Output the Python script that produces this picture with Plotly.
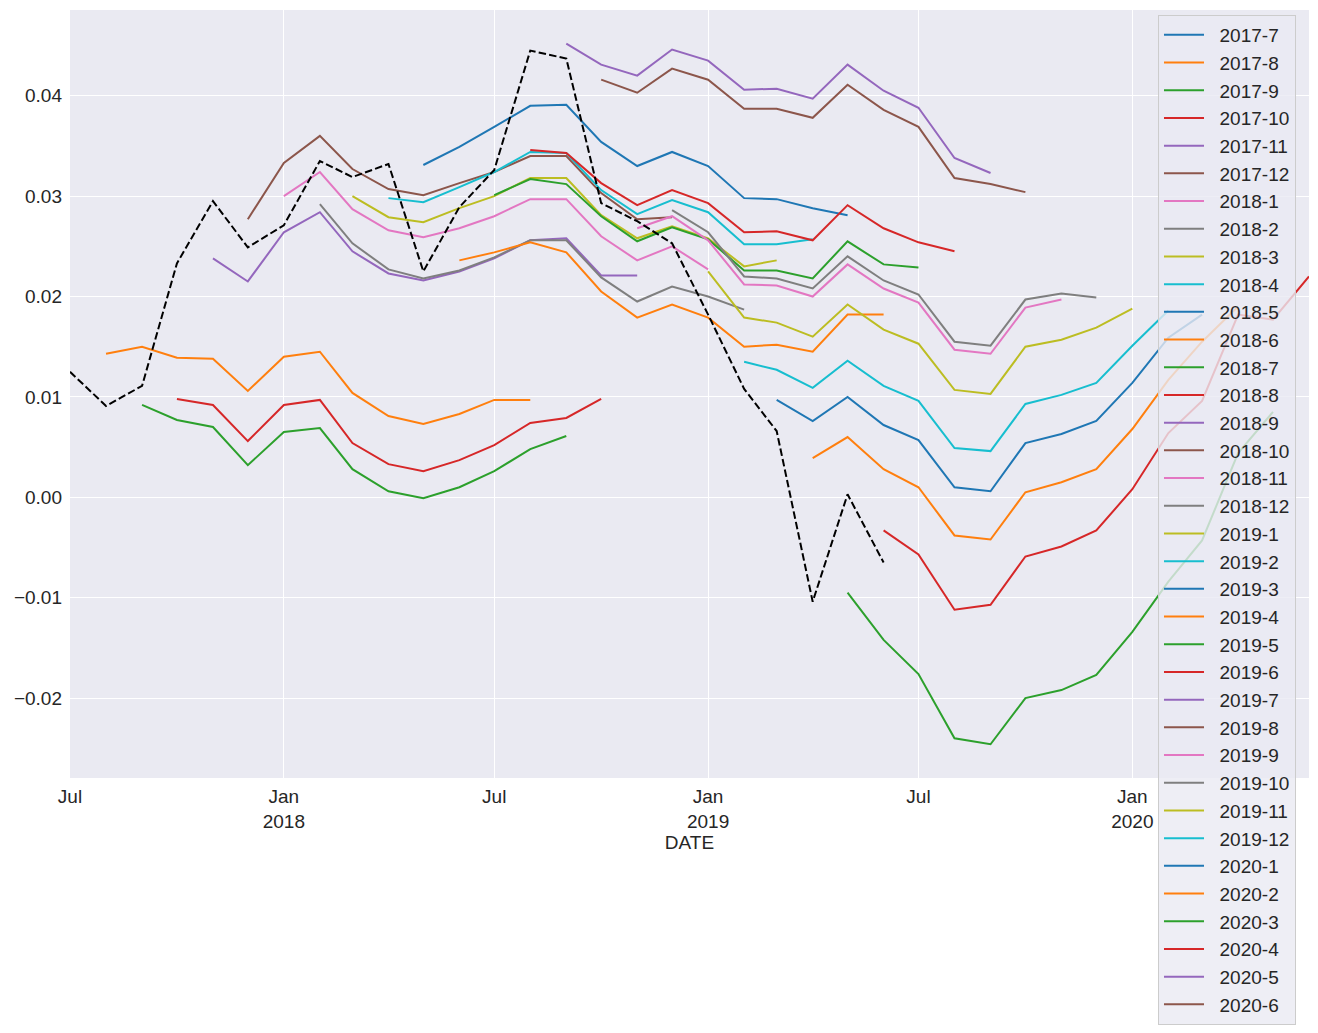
import pandas as pd
import plotly.graph_objects as go

# ---- data -------------------------------------------------------------
actual_start = "2017-07-01"
actual = [0.0125, 0.0091, 0.0111, 0.0233, 0.0295, 0.0249, 0.0271, 0.0335, 0.0319,
          0.0332, 0.0225, 0.0289, 0.0326, 0.0445, 0.0437, 0.0293, 0.0275, 0.0253,
          0.0182, 0.0108, 0.0066, -0.0104, 0.0003, -0.0065]

s2017_7 = []
s2017_8 = [0.0143, 0.0150, 0.0139, 0.0138, 0.0106, 0.0140, 0.0145, 0.0104, 0.0081, 0.0073, 0.0083, 0.0097, 0.0097]
s2017_9 = [0.0092, 0.0077, 0.0070, 0.0032, 0.0065, 0.0069, 0.0028, 0.0006, -0.0001, 0.0010, 0.0026, 0.0048, 0.0061]
s2017_10 = [0.0098, 0.0092, 0.0056, 0.0092, 0.0097, 0.0054, 0.0033, 0.0026, 0.0037, 0.0052, 0.0074, 0.0079, 0.0098]
s2017_11 = [0.0238, 0.0215, 0.0264, 0.0284, 0.0245, 0.0223, 0.0216, 0.0225, 0.0238, 0.0256, 0.0258, 0.0221, 0.0221]
s2017_12 = [0.0277, 0.0333, 0.0360, 0.0327, 0.0307, 0.0301, 0.0313, 0.0324, 0.0340, 0.0340, 0.0303, 0.0277, 0.0279]
s2018_1 = [0.0300, 0.0324, 0.0287, 0.0266, 0.0259, 0.0268, 0.0280, 0.0297, 0.0297, 0.0260, 0.0236, 0.0250, 0.0227]
s2018_2 = [0.0292, 0.0253, 0.0227, 0.0218, 0.0226, 0.0239, 0.0256, 0.0256, 0.0219, 0.0195, 0.0210, 0.0200, 0.0187]
s2018_3 = [0.0300, 0.0279, 0.0274, 0.0288, 0.0300, 0.0318, 0.0318, 0.0281, 0.0258, 0.0270, 0.0258, 0.0230, 0.0236]
s2018_4 = [0.0298, 0.0294, 0.0309, 0.0324, 0.0344, 0.0343, 0.0306, 0.0282, 0.0296, 0.0284, 0.0252, 0.0252, 0.0257]
s2018_5 = [0.0331, 0.0349, 0.0369, 0.0390, 0.0391, 0.0354, 0.0330, 0.0344, 0.0330, 0.0298, 0.0297, 0.0288, 0.0281]
s2018_6 = [0.0236, 0.0244, 0.0254, 0.0244, 0.0205, 0.0179, 0.0192, 0.0179, 0.0150, 0.0152, 0.0145, 0.0182, 0.0182]
s2018_7 = [0.0301, 0.0317, 0.0312, 0.0280, 0.0255, 0.0269, 0.0257, 0.0226, 0.0226, 0.0218, 0.0255, 0.0232, 0.0229]
s2018_8 = [0.0346, 0.0343, 0.0313, 0.0291, 0.0306, 0.0293, 0.0264, 0.0265, 0.0256, 0.0291, 0.0268, 0.0254, 0.0245]
s2018_9 = [0.0452, 0.0431, 0.0420, 0.0446, 0.0435, 0.0406, 0.0407, 0.0397, 0.0431, 0.0405, 0.0388, 0.0338, 0.0323]
s2018_10 = [0.0416, 0.0403, 0.0427, 0.0416, 0.0387, 0.0387, 0.0378, 0.0411, 0.0386, 0.0369, 0.0318, 0.0312, 0.0304]
s2018_11 = [0.0268, 0.0280, 0.0256, 0.0212, 0.0211, 0.0200, 0.0232, 0.0208, 0.0194, 0.0147, 0.0143, 0.0189, 0.0197]
s2018_12 = [0.0286, 0.0264, 0.0220, 0.0218, 0.0208, 0.0240, 0.0216, 0.0202, 0.0155, 0.0151, 0.0197, 0.0203, 0.0199]
s2019_1 = [0.0225, 0.0179, 0.0174, 0.0160, 0.0192, 0.0167, 0.0153, 0.0107, 0.0103, 0.0150, 0.0157, 0.0169, 0.0188]
s2019_2 = [0.0135, 0.0127, 0.0109, 0.0136, 0.0111, 0.0096, 0.0049, 0.0046, 0.0093, 0.0102, 0.0114, 0.0151, 0.0186]
s2019_3 = [0.0097, 0.0076, 0.0100, 0.0072, 0.0057, 0.0010, 0.0006, 0.0054, 0.0063, 0.0076, 0.0114, 0.0159, 0.0182]
s2019_4 = [0.0039, 0.0060, 0.0028, 0.0010, -0.0038, -0.0042, 0.0005, 0.0015, 0.0028, 0.0068, 0.0117, 0.0155, 0.0190]
s2019_5 = [-0.0095, -0.0142, -0.0176, -0.0240, -0.0246, -0.0200, -0.0192, -0.0177, -0.0134, -0.0084, -0.0043, 0.0044, 0.0085]
s2019_6 = [-0.0033, -0.0057, -0.0112, -0.0107, -0.0059, -0.0049, -0.0033, 0.0008, 0.0064, 0.0096, 0.0182, 0.0177, 0.0220]
s2019_7 = []
s2019_8 = []
s2019_9 = []
s2019_10 = []
s2019_11 = []
s2019_12 = []
s2020_1 = []
s2020_2 = []
s2020_3 = []
s2020_4 = []
s2020_5 = []
s2020_6 = []

series_labels = ["2017-7", "2017-8", "2017-9", "2017-10", "2017-11", "2017-12",
                 "2018-1", "2018-2", "2018-3", "2018-4", "2018-5", "2018-6",
                 "2018-7", "2018-8", "2018-9", "2018-10", "2018-11", "2018-12",
                 "2019-1", "2019-2", "2019-3", "2019-4", "2019-5", "2019-6",
                 "2019-7", "2019-8", "2019-9", "2019-10", "2019-11", "2019-12",
                 "2020-1", "2020-2", "2020-3", "2020-4", "2020-5", "2020-6"]
series_values = [s2017_7, s2017_8, s2017_9, s2017_10, s2017_11, s2017_12,
                 s2018_1, s2018_2, s2018_3, s2018_4, s2018_5, s2018_6,
                 s2018_7, s2018_8, s2018_9, s2018_10, s2018_11, s2018_12,
                 s2019_1, s2019_2, s2019_3, s2019_4, s2019_5, s2019_6,
                 s2019_7, s2019_8, s2019_9, s2019_10, s2019_11, s2019_12,
                 s2020_1, s2020_2, s2020_3, s2020_4, s2020_5, s2020_6]

tick_dates = ["2017-07-01", "2018-01-01", "2018-07-01", "2019-01-01", "2019-07-01", "2020-01-01"]
tick_text = ["Jul", "Jan<br>2018", "Jul", "Jan<br>2019", "Jul", "Jan<br>2020"]

colors = ["#1f77b4", "#ff7f0e", "#2ca02c", "#d62728", "#9467bd",
          "#8c564b", "#e377c2", "#7f7f7f", "#bcbd22", "#17becf"]

# ---- figure -------------------------------------------------------------
FONT = "Liberation Sans, Arial, sans-serif"
NB = "\u00a0\u00a0"
fig = go.Figure()

for i, (lab, vals) in enumerate(zip(series_labels, series_values)):
    y, m = lab.split("-")
    start = pd.Timestamp(year=int(y), month=int(m), day=1)
    xs = list(pd.date_range(start, periods=len(vals), freq="MS")) if vals else [None]
    ys = vals if vals else [None]
    fig.add_trace(go.Scatter(x=xs, y=ys, mode="lines", name=NB + lab,
                             line=dict(color=colors[i % 10], width=2)))

fig.add_trace(go.Scatter(
    x=list(pd.date_range(actual_start, periods=len(actual), freq="MS")),
    y=actual, mode="lines", showlegend=False,
    line=dict(color="black", width=2, dash="7.5px,3.2px")))

fig.update_layout(
    width=1318, height=1033,
    margin=dict(l=70, r=9, t=10, b=255, autoexpand=False),
    paper_bgcolor="white", plot_bgcolor="#EAEAF2",
    font=dict(family=FONT, size=19, color="#262626"),
    legend=dict(xref="container", yref="container", x=0.8786, y=0.9855,
                xanchor="left", yanchor="top", maxheight=1030,
                bgcolor="rgba(234,234,242,0.8)", bordercolor="#CCCCCC", borderwidth=1,
                font=dict(family=FONT, size=19, color="#262626"),
                itemwidth=40, tracegroupgap=0),
    xaxis=dict(type="date", range=["2017-07-01", "2020-06-01"],
               tickvals=tick_dates, ticktext=tick_text, tickangle=0,
               showgrid=True, gridcolor="white", gridwidth=1.3,
               zeroline=False, showline=False, ticks="", ticklabelstandoff=5,
               title=dict(text="DATE", standoff=3, font=dict(size=19))),
    yaxis=dict(range=[-0.02796, 0.04854], tick0=0, dtick=0.01, tickformat=".2f",
               showgrid=True, gridcolor="white", gridwidth=1.3,
               zeroline=False, showline=False, ticks="", ticklabelstandoff=7),
)

fig.write_html("out.html")
